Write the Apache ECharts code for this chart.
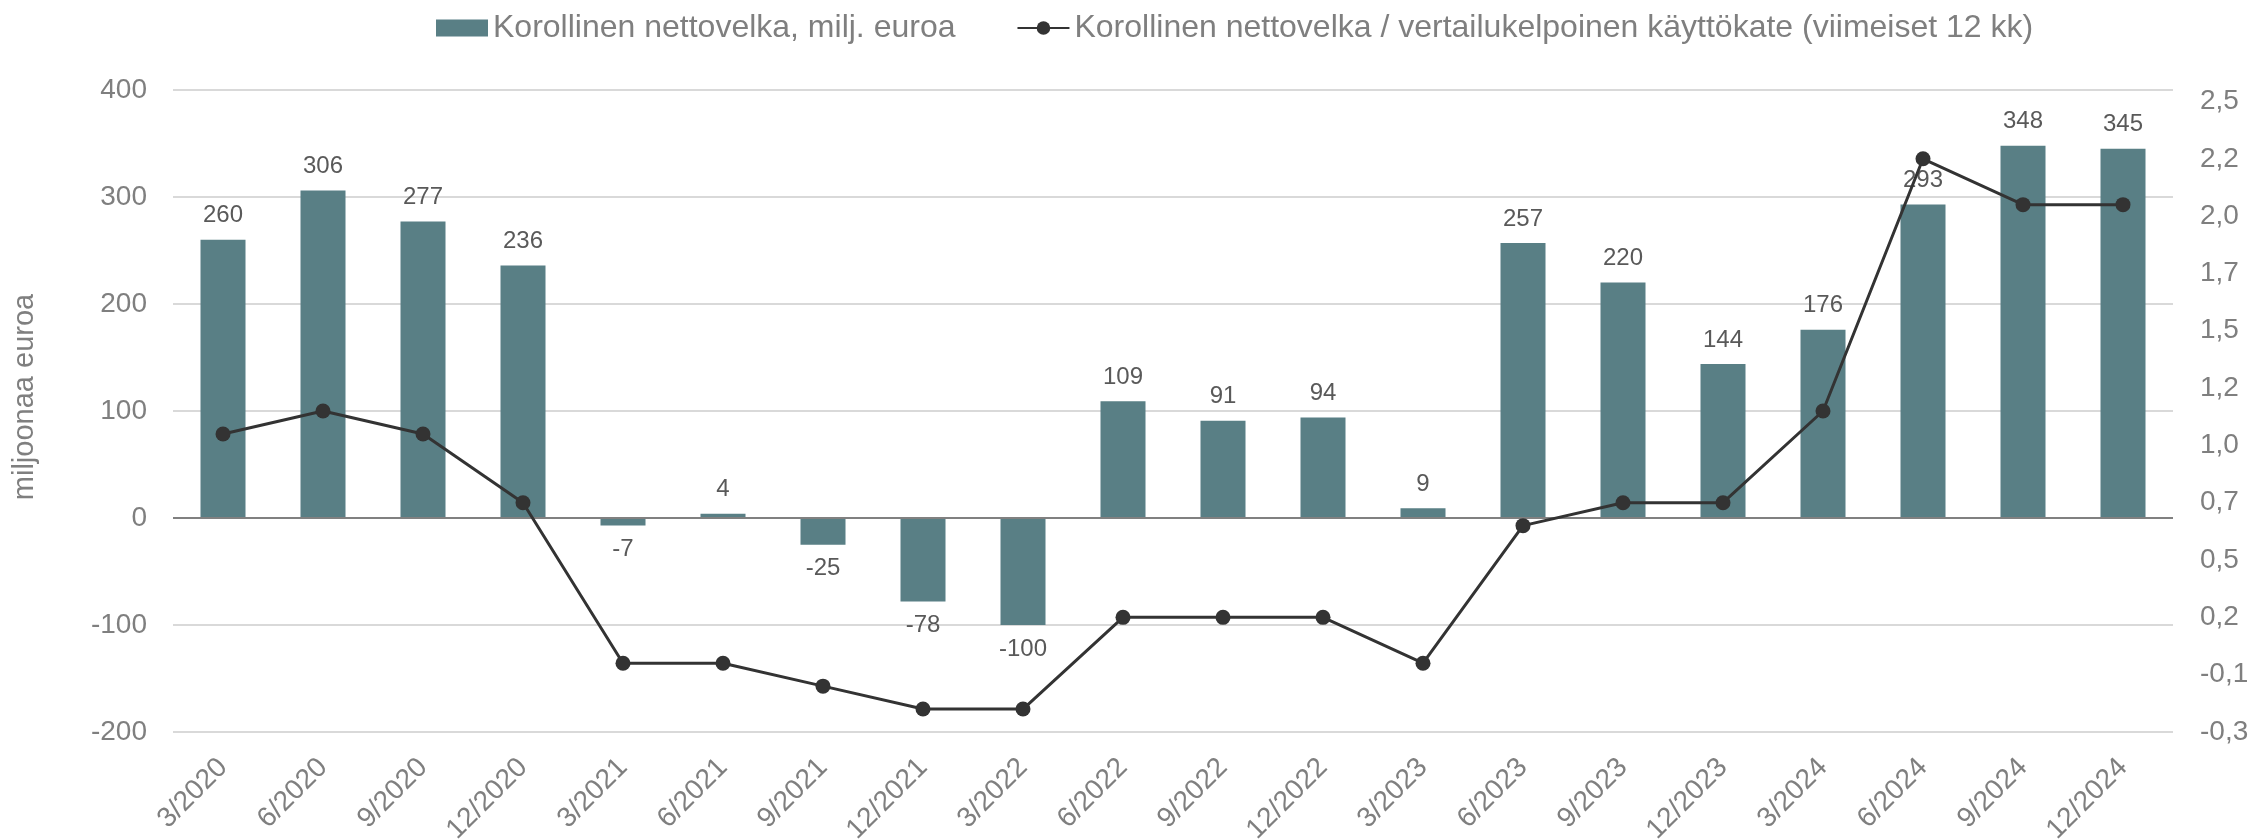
<!DOCTYPE html>
<html>
<head>
<meta charset="utf-8">
<title>Korollinen nettovelka</title>
<script src="https://cdn.jsdelivr.net/npm/echarts@6/dist/echarts.min.js"></script>
<style>
    html, body {
        margin: 0;
        padding: 0;
        background: #fff;
    }
    #chart {
        width: 2254px;
        height: 839px;
    }
</style>
</head>
<body>
<div id="chart"></div>
<script>
const categories = ['3/2020', '6/2020', '9/2020', '12/2020', '3/2021', '6/2021', '9/2021', '12/2021', '3/2022', '6/2022',
    '9/2022', '12/2022', '3/2023', '6/2023', '9/2023', '12/2023', '3/2024', '6/2024', '9/2024', '12/2024']
const netDebt = [260, 306, 277, 236, -7, 4, -25, -78, -100, 109, 91, 94, 9, 257, 220, 144, 176, 293, 348, 345]
const debtToEbitda = [1.0, 1.1, 1.0, 0.7, 0.0, 0.0, -0.1, -0.2, -0.2, 0.2, 0.2, 0.2, 0.0, 0.6, 0.7, 0.7, 1.1, 2.2, 2.0, 2.0]
// right axis ticks run from -0,3 in steps of 0,25 (shown rounded to one decimal)
const rightTicks = [-0.3, -0.05, 0.2, 0.45, 0.7, 0.95, 1.2, 1.45, 1.7, 1.95, 2.2, 2.45]

const barName = 'Korollinen nettovelka, milj. euroa'
const lineName = 'Korollinen nettovelka / vertailukelpoinen käyttökate (viimeiset 12 kk)'

const font = '"Liberation Sans", Arial, sans-serif'
const grey = '#7f7f7f'

const fmtRight = (v) => {
    const r = Math.round(Math.abs(v) * 10 + 1e-6) / 10
    return (v < 0 ? '-' : '') + r.toFixed(1).replace('.', ',')
}

const chart = echarts.init(document.getElementById('chart'))

const option = {
    animation: false,
    textStyle: { fontFamily: font },
    legend: {
        left: 431,
        top: 7,
        itemWidth: 52,
        itemHeight: 17,
        itemGap: 61,
        textStyle: { fontSize: 32, color: grey, fontFamily: font },
        data: [
            { name: barName, icon: 'rect' },
            { name: lineName }
        ]
    },
    grid: {
        left: 173,
        right: 81,
        top: 90,
        bottom: 107,
        outerBoundsMode: 'none'
    },
    xAxis: {
        type: 'category',
        data: categories,
        axisLine: { show: false, onZero: false },
        axisTick: { show: false },
        axisLabel: {
            rotate: 45,
            margin: 31,
            fontSize: 28,
            color: grey,
            fontFamily: font
        }
    },
    yAxis: [
        {
            type: 'value',
            min: -200,
            max: 400,
            interval: 100,
            name: 'miljoonaa euroa',
            nameLocation: 'middle',
            nameGap: 134,
            nameTextStyle: { fontSize: 29, color: grey, fontFamily: font, padding: [0, 0, 0, 28] },
            axisLine: { show: false },
            axisTick: { show: false },
            axisLabel: { fontSize: 28, color: grey, margin: 26, fontFamily: font },
            splitLine: { lineStyle: { color: '#d9d9d9', width: 2 } }
        },
        {
            type: 'value',
            min: -0.3,
            max: 2.5,
            position: 'right',
            axisLine: { show: false },
            axisTick: { show: false },
            splitLine: { show: false },
            axisLabel: {
                customValues: rightTicks,
                formatter: fmtRight,
                fontSize: 28,
                color: grey,
                margin: 27,
                fontFamily: font
            }
        }
    ],
    series: [
        {
            name: barName,
            type: 'bar',
            barWidth: 45,
            itemStyle: { color: '#597f85' },
            data: netDebt.map(v => ({
                value: v,
                label: { position: v < 0 ? 'bottom' : 'top' }
            })),
            label: {
                show: true,
                distance: 12,
                fontSize: 24,
                color: '#595959',
                fontFamily: font
            },
            markLine: {
                silent: true,
                symbol: 'none',
                label: { show: false },
                lineStyle: { color: '#808080', width: 2, type: 'solid' },
                data: [{ yAxis: 0 }]
            }
        },
        {
            name: lineName,
            type: 'line',
            yAxisIndex: 1,
            data: debtToEbitda,
            symbol: 'circle',
            symbolSize: 15,
            itemStyle: { color: '#333333' },
            lineStyle: { color: '#333333', width: 3 },
            z: 5
        }
    ]
}

chart.setOption(option)
</script>
</body>
</html>
